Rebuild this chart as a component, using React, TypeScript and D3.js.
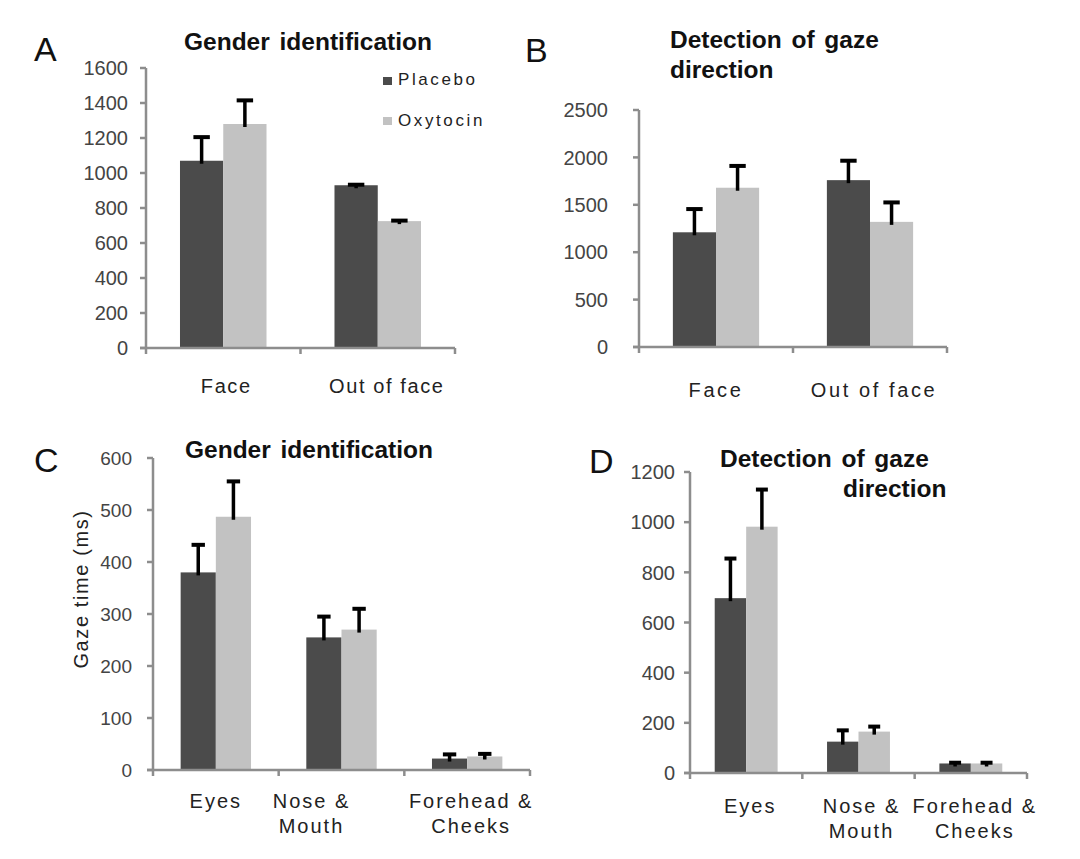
import { range, scaleBand, scaleLinear } from "d3";

const groups = ["Placebo", "Oxytocin"];
const groupColors = ["#4b4b4b", "#c2c2c2"];

const regionCats = [["Face"], ["Out of face"]];
const featureCats = [["Eyes"], ["Nose &", "Mouth"], ["Forehead &", "Cheeks"]];

// A: gender identification, face vs out of face
const aPlacebo = [1070, 930];
const aPlaceboErr = [135, 3];
const aOxytocin = [1280, 725];
const aOxytocinErr = [135, 3];

// B: detection of gaze direction, face vs out of face
const bPlacebo = [1210, 1760];
const bPlaceboErr = [245, 205];
const bOxytocin = [1680, 1320];
const bOxytocinErr = [230, 205];

// C: gender identification, face regions
const cPlacebo = [380, 255, 22];
const cPlaceboErr = [53, 40, 8];
const cOxytocin = [487, 270, 26];
const cOxytocinErr = [68, 40, 5];

// D: detection of gaze direction, face regions
const dPlacebo = [697, 125, 38];
const dPlaceboErr = [158, 45, 3];
const dOxytocin = [982, 165, 38];
const dOxytocinErr = [148, 20, 3];

const font = '"Liberation Sans", Arial, sans-serif';
const axisColor = "#8d8d8d";

interface PanelProps {
  letter: string;
  letterX: number;
  letterY: number;
  title: { text: string; x: number; y: number; anchor: "start" | "middle" }[];
  cats: string[][];
  values: number[][];
  errors: number[][];
  x0: number;
  x1: number;
  top: number;
  bottom: number;
  max: number;
  step: number;
  tickGap: number;
  tickSize: number;
  labelDy: number;
  labelDx: number[];
  labelSpacing: number;
  legend?: boolean;
  yLabel?: string;
}

function Panel(p: PanelProps) {
  const x = scaleBand<number>()
    .domain(p.cats.map((_, i) => i))
    .range([p.x0, p.x1])
    .paddingInner(0.44)
    .paddingOuter(0.22);
  const inner = scaleBand<number>()
    .domain(groups.map((_, i) => i))
    .range([0, x.bandwidth()]);
  const y = scaleLinear().domain([0, p.max]).range([p.bottom, p.top]);
  const ticks = range(0, p.max + 1, p.step);
  const stepW = (p.x1 - p.x0) / p.cats.length;
  const cap = inner.bandwidth() * 0.38;

  return (
    <g>
      <text x={p.letterX} y={p.letterY} fontSize={34} fontFamily={font} fill="#111">
        {p.letter}
      </text>
      {p.title.map((t) => (
        <text
          key={t.text}
          x={t.x}
          y={t.y}
          textAnchor={t.anchor}
          fontSize={24.5}
          fontWeight="bold"
          fontFamily={font}
          wordSpacing={3}
          fill="#111"
        >
          {t.text}
        </text>
      ))}
      {groups.map((g, gi) =>
        p.cats.map((_, ci) => (
          <rect
            key={`${g}-${ci}`}
            x={(x(ci) ?? 0) + (inner(gi) ?? 0)}
            y={y(p.values[gi][ci])}
            width={inner.bandwidth()}
            height={p.bottom - y(p.values[gi][ci])}
            fill={groupColors[gi]}
          />
        ))
      )}
      {groups.map((g, gi) =>
        p.cats.map((_, ci) => {
          const cx = (x(ci) ?? 0) + (inner(gi) ?? 0) + inner.bandwidth() / 2;
          const yt = y(p.values[gi][ci] + p.errors[gi][ci]);
          return (
            <g key={`err-${g}-${ci}`} stroke="#000">
              <line x1={cx} x2={cx} y1={y(p.values[gi][ci]) + 3} y2={yt} strokeWidth={3.5} />
              <line x1={cx - cap / 2} x2={cx + cap / 2} y1={yt} y2={yt} strokeWidth={4} />
            </g>
          );
        })
      )}
      <line x1={p.x0} x2={p.x0} y1={p.top} y2={p.bottom} stroke={axisColor} strokeWidth={2.5} />
      {ticks.map((t) => (
        <g key={t}>
          <line x1={p.x0 - 6} x2={p.x0} y1={y(t)} y2={y(t)} stroke={axisColor} strokeWidth={2.5} />
          <text
            x={p.x0 - p.tickGap}
            y={y(t)}
            dy="0.36em"
            textAnchor="end"
            fontSize={p.tickSize}
            fontFamily={font}
            fill="#444"
          >
            {t}
          </text>
        </g>
      ))}
      <line x1={p.x0 - 6} x2={p.x1} y1={p.bottom} y2={p.bottom} stroke={axisColor} strokeWidth={2.5} />
      {range(p.cats.length + 1).map((i) => (
        <line
          key={i}
          x1={p.x0 + i * stepW}
          x2={p.x0 + i * stepW}
          y1={p.bottom}
          y2={p.bottom + 6}
          stroke={axisColor}
          strokeWidth={2.5}
        />
      ))}
      {p.cats.map((lines, ci) => (
        <text
          key={ci}
          x={(x(ci) ?? 0) + x.bandwidth() / 2 + p.labelDx[ci]}
          y={p.bottom + p.labelDy}
          textAnchor="middle"
          fontSize={20}
          fontFamily={font}
          letterSpacing={p.labelSpacing}
          fill="#222"
        >
          {lines.map((l, li) => (
            <tspan key={li} x={(x(ci) ?? 0) + x.bandwidth() / 2 + p.labelDx[ci]} dy={li === 0 ? 0 : 25}>
              {l}
            </tspan>
          ))}
        </text>
      ))}
      {p.legend
        ? groups.map((g, gi) => (
            <g key={g}>
              <rect x={383} y={77 + gi * 40} width={9} height={8} fill={groupColors[gi]} />
              <text x={398} y={85 + gi * 41} fontSize={17} letterSpacing={2.6} fontFamily={font} fill="#222">
                {g}
              </text>
            </g>
          ))
        : null}
      {p.yLabel ? (
        <text
          transform={`translate(88, 589) rotate(-90)`}
          textAnchor="middle"
          fontSize={20}
          letterSpacing={1.6}
          fontFamily={font}
          fill="#222"
        >
          {p.yLabel}
        </text>
      ) : null}
    </g>
  );
}

export default function App() {
  return (
    <div style={{ position: "absolute", left: 0, top: 0, background: "#fff" }}>
      <svg width={1080} height={859} viewBox="0 0 1080 859">
        <rect width={1080} height={859} fill="#fff" />
        <Panel
          letter="A"
          letterX={34}
          letterY={61}
          title={[{ text: "Gender identification", x: 308, y: 50, anchor: "middle" }]}
          cats={regionCats}
          values={[aPlacebo, aOxytocin]}
          errors={[aPlaceboErr, aOxytocinErr]}
          x0={146}
          x1={455}
          top={68}
          bottom={348}
          max={1600}
          step={200}
          tickGap={18}
          tickSize={20}
          labelDy={45}
          labelDx={[3, 9]}
          labelSpacing={1.6}
          legend
        />
        <Panel
          letter="B"
          letterX={525}
          letterY={62}
          title={[
            { text: "Detection of gaze", x: 670, y: 48, anchor: "start" },
            { text: "direction", x: 670, y: 78, anchor: "start" }
          ]}
          cats={regionCats}
          values={[bPlacebo, bOxytocin]}
          errors={[bPlaceboErr, bOxytocinErr]}
          x0={639}
          x1={947}
          top={110}
          bottom={347}
          max={2500}
          step={500}
          tickGap={31}
          tickSize={20}
          labelDy={50}
          labelDx={[0, 4]}
          labelSpacing={2.6}
        />
        <Panel
          letter="C"
          letterX={34}
          letterY={472}
          title={[{ text: "Gender identification", x: 309, y: 458, anchor: "middle" }]}
          cats={featureCats}
          values={[cPlacebo, cOxytocin]}
          errors={[cPlaceboErr, cOxytocinErr]}
          x0={153}
          x1={530}
          top={458}
          bottom={770}
          max={600}
          step={100}
          tickGap={21}
          tickSize={19}
          labelDy={38}
          labelDx={[0, -30, 4]}
          labelSpacing={2}
          yLabel="Gaze time (ms)"
        />
        <Panel
          letter="D"
          letterX={589}
          letterY={473}
          title={[
            { text: "Detection of gaze", x: 720, y: 467, anchor: "start" },
            { text: "direction", x: 843, y: 497, anchor: "start" }
          ]}
          cats={featureCats}
          values={[dPlacebo, dOxytocin]}
          errors={[dPlaceboErr, dOxytocinErr]}
          x0={690}
          x1={1027}
          top={472}
          bottom={773}
          max={1200}
          step={200}
          tickGap={15}
          tickSize={20}
          labelDy={40}
          labelDx={[4, 3, 4]}
          labelSpacing={2}
        />
      </svg>
    </div>
  );
}
